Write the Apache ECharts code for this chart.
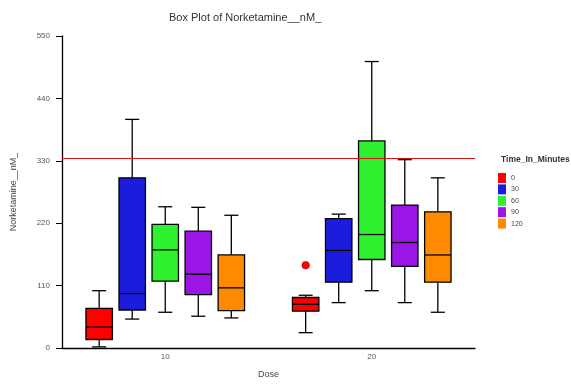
<!DOCTYPE html>
<html>
<head>
<meta charset="utf-8">
<script src="https://cdn.jsdelivr.net/npm/echarts@6/dist/echarts.min.js"></script>
<style>html,body{margin:0;padding:0;background:#fff}#c{width:571px;height:386px}</style>
</head>
<body>
<div id="c"></div>
<script>
// Data
var doses = ['10', '20'];
var groups = ['0', '30', '60', '90', '120'];
// each row: [min, q1, median, q3, max] for dose 10, dose 20
var box0 = [[2, 15, 37, 70, 101], [27, 65, 77, 89, 93]];
var box30 = [[51, 67, 96, 300, 403], [80, 116, 172, 228, 236]];
var box60 = [[63, 118, 173, 218, 249], [101, 156, 200, 365, 505]];
var box90 = [[56, 94, 130, 206, 248], [80, 144, 186, 252, 332]];
var box120 = [[53, 66, 106, 164, 234], [63, 116, 164, 240, 300]];
// outliers: [doseIndex, groupIndex, value]
var outliers = [[1, 0, 146]];
var refLine = 334;
var yTicks = [0, 110, 220, 330, 440, 550];

var colors = ['#ff0000', '#1c1cdc', '#2ef02e', '#9b16e6', '#ff8a00'];
var boxes = [box0, box30, box60, box90, box120];

var FONT = 'Liberation Sans, Arial, sans-serif';

function makeRender(gi) {
  return function (params, api) {
    var xi = api.value(0);
    var band = api.size([1, 0])[0];
    var cx = api.coord([xi, 0])[0] + (gi - 2) * band * 0.16;
    var half = band * 0.064;
    var cap = band * 0.034;
    var yMin = api.coord([xi, api.value(1)])[1];
    var yQ1 = api.coord([xi, api.value(2)])[1];
    var yMed = api.coord([xi, api.value(3)])[1];
    var yQ3 = api.coord([xi, api.value(4)])[1];
    var yMax = api.coord([xi, api.value(5)])[1];
    var ls = { stroke: '#000', lineWidth: 1.3 };
    return {
      type: 'group',
      children: [
        { type: 'line', shape: { x1: cx, y1: yMax, x2: cx, y2: yQ3 }, style: ls },
        { type: 'line', shape: { x1: cx, y1: yQ1, x2: cx, y2: yMin }, style: ls },
        { type: 'line', shape: { x1: cx - cap, y1: yMax, x2: cx + cap, y2: yMax }, style: ls },
        { type: 'line', shape: { x1: cx - cap, y1: yMin, x2: cx + cap, y2: yMin }, style: ls },
        { type: 'rect', shape: { x: cx - half, y: yQ3, width: half * 2, height: yQ1 - yQ3 },
          style: { fill: colors[gi], stroke: '#000', lineWidth: 1.3 } },
        { type: 'line', shape: { x1: cx - half, y1: yMed, x2: cx + half, y2: yMed }, style: ls }
      ]
    };
  };
}

var series = groups.map(function (name, gi) {
  return {
    type: 'custom',
    name: name,
    renderItem: makeRender(gi),
    itemStyle: { color: colors[gi] },
    encode: { x: 0, y: [1, 2, 3, 4, 5] },
    data: boxes[gi].map(function (b, di) { return [di].concat(b); }),
    z: 3
  };
});

series.push({
  type: 'custom',
  name: 'outliers',
  renderItem: function (params, api) {
    var xi = api.value(0);
    var gi = api.value(1);
    var band = api.size([1, 0])[0];
    var p = api.coord([xi, api.value(2)]);
    var cx = p[0] + (gi - 2) * band * 0.16;
    return { type: 'circle', shape: { cx: cx, cy: p[1], r: 3.8 }, style: { fill: colors[gi], stroke: '#b00000', lineWidth: 0.6 } };
  },
  encode: { x: 0, y: 2 },
  data: outliers,
  z: 4
});

series.push({
  type: 'line',
  name: 'ref',
  data: [],
  markLine: {
    silent: true,
    symbol: 'none',
    label: { show: false },
    lineStyle: { color: '#d81010', width: 1.2, type: 'solid' },
    data: [{ yAxis: refLine }]
  }
});

var chart = echarts.init(document.getElementById('c'), null, { renderer: 'canvas' });
chart.setOption({
  animation: false,
  backgroundColor: '#ffffff',
  textStyle: { fontFamily: FONT },
  title: [
    { text: 'Box Plot of Norketamine__nM_', left: 164, top: 7,
      textStyle: { fontSize: 11, fontWeight: 'normal', color: '#333', fontFamily: FONT } },
    { text: 'Time_In_Minutes', left: 496, top: 150,
      textStyle: { fontSize: 8.5, fontWeight: 'bold', color: '#333', fontFamily: FONT } }
  ],
  legend: {
    data: groups,
    orient: 'vertical',
    left: 493,
    top: 168,
    itemWidth: 8,
    itemHeight: 10,
    itemGap: 1.4,
    icon: 'rect',
    textStyle: { fontSize: 7, color: '#444', fontFamily: FONT, padding: [0, 0, 0, 0] }
  },
  grid: { left: 62, right: 96, top: 36, bottom: 38, containLabel: false },
  xAxis: {
    type: 'category',
    data: doses,
    name: 'Dose',
    nameLocation: 'middle',
    nameGap: 22,
    nameTextStyle: { fontSize: 9, color: '#444', fontFamily: FONT },
    axisLine: { lineStyle: { color: '#000', width: 1.3 } },
    axisTick: { alignWithLabel: true, length: 3, lineStyle: { color: '#000' } },
    axisLabel: { fontSize: 8, color: '#555', margin: 5, fontFamily: FONT },
    splitLine: { show: false }
  },
  yAxis: {
    type: 'value',
    min: 0,
    max: 550,
    interval: 110,
    name: 'Norketamine__nM_',
    nameLocation: 'middle',
    nameGap: 44,
    nameTextStyle: { fontSize: 9, color: '#444', fontFamily: FONT },
    axisLine: { show: true, lineStyle: { color: '#000', width: 1.3 } },
    axisTick: { show: true, length: 6, lineStyle: { color: '#000' } },
    axisLabel: { fontSize: 8, color: '#555', margin: 12, fontFamily: FONT,
      formatter: function (v) { return yTicks.indexOf(v) >= 0 ? String(v) : ''; } },
    splitLine: { show: false }
  },
  series: series
});
</script>
</body>
</html>
